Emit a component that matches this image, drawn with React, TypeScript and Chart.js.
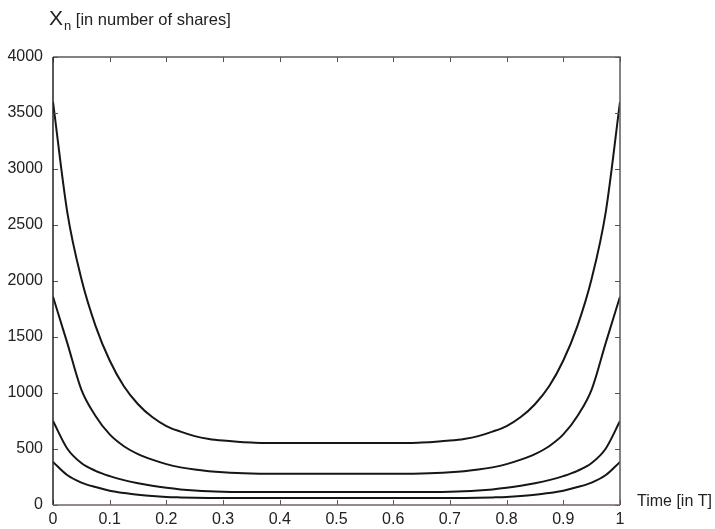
import React, { useEffect, useRef } from 'react';
import { Chart, registerables } from 'chart.js';

Chart.register(...registerables);

// Time grid (fraction of T)
const times = [
  0, 0.025, 0.05, 0.075, 0.1, 0.125, 0.15, 0.175, 0.2, 0.225,
  0.25, 0.275, 0.3, 0.325, 0.35, 0.375, 0.4, 0.425, 0.45, 0.475,
  0.5, 0.525, 0.55, 0.575, 0.6, 0.625, 0.65, 0.675, 0.7, 0.725,
  0.75, 0.775, 0.8, 0.825, 0.85, 0.875, 0.9, 0.925, 0.95, 0.975, 1,
];

// Number of shares per trading period, four trajectories
const seriesTop = [
  3600, 2620, 2020, 1600, 1290, 1060, 900, 785, 705, 655,
  615, 590, 575, 565, 558, 553, 553, 553, 553, 553,
  553, 553, 553, 553, 553, 553, 558, 565, 575, 590,
  615, 655, 705, 785, 900, 1060, 1290, 1600, 2020, 2620, 3600,
];
const seriesSecond = [
  1860, 1450, 1030, 795, 630, 525, 455, 405, 365, 336,
  316, 302, 292, 285, 281, 279, 279, 279, 279, 279,
  279, 279, 279, 279, 279, 279, 281, 285, 292, 302,
  316, 336, 365, 405, 455, 525, 630, 795, 1030, 1450, 1860,
];
const seriesThird = [
  750, 505, 375, 305, 258, 222, 194, 171, 153, 139,
  129, 122, 118, 116, 116, 116, 116, 116, 116, 116,
  116, 116, 116, 116, 116, 116, 116, 116, 118, 122,
  129, 139, 153, 171, 194, 222, 258, 305, 375, 505, 750,
];
const seriesBottom = [
  385, 268, 200, 160, 128, 107, 92, 80, 72, 68,
  65, 63, 62, 62, 62, 62, 62, 62, 62, 62,
  62, 62, 62, 62, 62, 62, 62, 62, 62, 63,
  65, 68, 72, 80, 92, 107, 128, 160, 200, 268, 385,
];

const xTicks = [0, 0.1, 0.2, 0.3, 0.4, 0.5, 0.6, 0.7, 0.8, 0.9, 1];
const xTickLabels = ['0', '0.1', '0.2', '0.3', '0.4', '0.5', '0.6', '0.7', '0.8', '0.9', '1'];
const yTicks = [0, 500, 1000, 1500, 2000, 2500, 3000, 3500, 4000];
const yTickLabels = ['0', '500', '1000', '1500', '2000', '2500', '3000', '3500', '4000'];

const yTitleMain = 'X';
const yTitleSub = 'n';
const yTitleRest = ' [in number of shares]';
const xTitle = 'Time [in T]';

const FONT = '"Liberation Sans", Arial, Helvetica, sans-serif';

export default function App() {
  const ref = useRef<HTMLCanvasElement>(null);

  useEffect(() => {
    if (!ref.current) return;

    const framePlugin = {
      id: 'matlabFrame',
      afterDraw(chart: any) {
        const { ctx, chartArea } = chart;
        const { left, right, top, bottom } = chartArea;
        const xs = chart.scales.x;
        const ys = chart.scales.y;
        ctx.save();
        // inward ticks
        ctx.lineWidth = 1;
        ctx.strokeStyle = '#555';
        const tl = 5;
        xTicks.forEach((v) => {
          const px = Math.round(xs.getPixelForValue(v)) + 0.5;
          ctx.beginPath();
          ctx.moveTo(px, bottom);
          ctx.lineTo(px, bottom - tl);
          ctx.moveTo(px, top);
          ctx.lineTo(px, top + tl);
          ctx.stroke();
        });
        yTicks.forEach((v) => {
          const py = Math.round(ys.getPixelForValue(v)) + 0.5;
          ctx.beginPath();
          ctx.moveTo(left, py);
          ctx.lineTo(left + tl, py);
          ctx.moveTo(right, py);
          ctx.lineTo(right - tl, py);
          ctx.stroke();
        });
        // frame
        ctx.lineWidth = 1.5;
        ctx.strokeStyle = '#5a5a5a';
        ctx.beginPath();
        ctx.moveTo(left, top);
        ctx.lineTo(right, top);
        ctx.lineTo(right, bottom);
        ctx.stroke();
        ctx.strokeStyle = '#222';
        ctx.beginPath();
        ctx.moveTo(left, top);
        ctx.lineTo(left, bottom);
        ctx.stroke();
        ctx.strokeStyle = '#75625e';
        ctx.beginPath();
        ctx.moveTo(left, bottom);
        ctx.lineTo(right, bottom);
        ctx.stroke();

        // titles
        ctx.fillStyle = '#222';
        ctx.textBaseline = 'alphabetic';
        ctx.textAlign = 'left';
        ctx.font = `21px ${FONT}`;
        ctx.fillText(yTitleMain, 49, 25);
        const wX = ctx.measureText(yTitleMain).width;
        ctx.font = `13px ${FONT}`;
        ctx.fillText(yTitleSub, 49 + wX + 1, 30);
        const wn = ctx.measureText(yTitleSub).width;
        ctx.font = `16.5px ${FONT}`;
        ctx.fillText(yTitleRest, 49 + wX + 1 + wn, 25);

        ctx.font = `16px ${FONT}`;
        ctx.fillText(xTitle, 637, 506);
        ctx.restore();
      },
    };

    const mk = (vals: number[]) => ({
      data: times.map((t, i) => ({ x: t, y: vals[i] })),
      borderColor: '#161616',
      borderWidth: 2,
      pointRadius: 0,
      fill: false,
      cubicInterpolationMode: 'monotone' as const,
    });

    const chart = new Chart(ref.current, {
      type: 'line',
      data: {
        datasets: [mk(seriesTop), mk(seriesSecond), mk(seriesThird), mk(seriesBottom)],
      },
      options: {
        responsive: false,
        animation: false,
        layout: { padding: { left: 0, top: 57, right: 95, bottom: 0 } },
        plugins: { legend: { display: false }, tooltip: { enabled: false } },
        scales: {
          x: {
            type: 'linear',
            min: 0,
            max: 1,
            grid: { display: false, drawTicks: false },
            border: { display: false },
            afterBuildTicks: (s: any) => {
              s.ticks = xTicks.map((v) => ({ value: v }));
            },
            afterFit: (s: any) => {
              s.height = 24;
            },
            ticks: {
              padding: 5,
              color: '#222',
              font: { family: FONT, size: 16 },
              maxRotation: 0,
              autoSkip: false,
              callback: (_v: any, i: number) => xTickLabels[i],
            },
          },
          y: {
            type: 'linear',
            min: 0,
            max: 4000,
            grid: { display: false, drawTicks: false },
            border: { display: false },
            afterBuildTicks: (s: any) => {
              s.ticks = yTicks.map((v) => ({ value: v }));
            },
            afterFit: (s: any) => {
              s.width = 53;
            },
            ticks: {
              padding: 10,
              color: '#222',
              font: { family: FONT, size: 16 },
              autoSkip: false,
              callback: (_v: any, i: number) => yTickLabels[i],
            },
          },
        },
      },
      plugins: [framePlugin],
    });

    return () => chart.destroy();
  }, []);

  return (
    <div style={{ position: 'fixed', left: 0, top: 0, width: 715, height: 529, background: '#fff' }}>
      <canvas ref={ref} width={715} height={529} style={{ display: 'block' }} />
    </div>
  );
}
